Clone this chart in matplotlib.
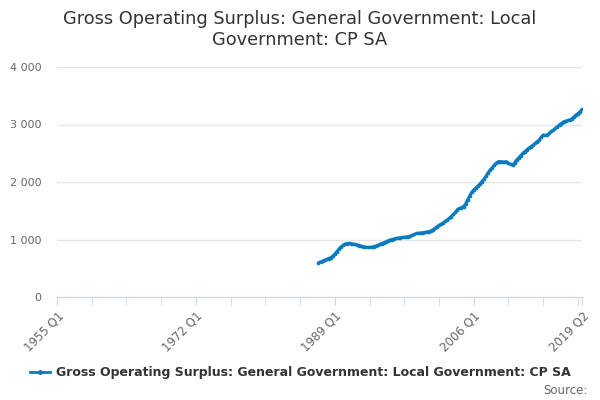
import numpy as np
import matplotlib.pyplot as plt
from matplotlib.lines import Line2D

title = "Gross Operating Surplus: General Government: Local\nGovernment: CP SA"
series_name = "Gross Operating Surplus: General Government: Local Government: CP SA"

# axis runs 1955 Q1 .. 2019 Q2, data from 1987 Q1
first_year, last_year, last_q = 1955, 2019, 2
data_start = (1987, 1)
tick_labels = ["1955 Q1", "1972 Q1", "1989 Q1", "2006 Q1", "2019 Q2"]
y_ticks = [0, 1000, 2000, 3000, 4000]

values = [
    597, 610, 625, 640, 655, 668, 685, 710, 745, 790,
    835, 870, 900, 920, 930, 933, 930, 922, 915, 905,
    895, 885, 875, 868, 864, 862, 866, 875, 887, 900,
    915, 930, 945, 960, 978, 991, 1000, 1010, 1020, 1025,
    1030, 1035, 1040, 1045, 1052, 1061, 1075, 1090, 1107, 1110,
    1112, 1118, 1125, 1130, 1136, 1150, 1170, 1195, 1223, 1245,
    1268, 1290, 1315, 1339, 1370, 1400, 1435, 1470, 1520, 1540,
    1555, 1571, 1620, 1687, 1760, 1820, 1861, 1895, 1930, 1965,
    2005, 2050, 2100, 2160, 2209, 2250, 2290, 2330, 2353, 2355,
    2350, 2348, 2353, 2330, 2305, 2296, 2330, 2383, 2420, 2460,
    2499, 2530, 2560, 2590, 2614, 2640, 2670, 2700, 2730, 2780,
    2817, 2810, 2817, 2850, 2880, 2904, 2935, 2965, 2995, 3020,
    3049, 3060, 3070, 3078, 3100, 3130, 3165, 3190, 3220, 3264,
]

def qindex(year, q):
    return (year - first_year) * 4 + (q - 1)

end_idx = qindex(last_year, last_q)
start_idx = qindex(*data_start)
x = np.arange(start_idx, start_idx + len(values))

blue = "#0a7bc1"
fig = plt.figure(figsize=(6, 4), dpi=100)
ax = fig.add_axes([0.095, 0.2575, 0.875, 0.575])

ax.plot(x, values, color=blue, lw=2.2, marker="o", ms=1.6, solid_capstyle="round")

ax.set_xlim(0, end_idx)
ax.set_ylim(0, 4000)
ax.set_yticks(y_ticks)
ax.set_yticklabels([f"{v:,}".replace(",", " ") for v in y_ticks])
ax.yaxis.grid(True, color="#e6e6e6", lw=1)
ax.set_axisbelow(True)

major = [qindex(1955, 1), qindex(1972, 1), qindex(1989, 1), qindex(2006, 1), end_idx]
ax.set_xticks(major)
ax.set_xticklabels(tick_labels, rotation=45, ha="right", rotation_mode="anchor")
minor = [i for i in range(0, end_idx, 17) if i not in major]
ax.set_xticks(minor, minor=True)

for s in ["top", "right", "left"]:
    ax.spines[s].set_visible(False)
ax.spines["bottom"].set_color("#ccd6eb")
ax.tick_params(axis="x", which="both", length=6, color="#ccd6eb", labelsize=8.5,
               labelcolor="#666666", pad=3)
ax.tick_params(axis="y", length=0, labelsize=8, labelcolor="#666666", pad=11)

fig.text(0.5, 0.975, title, ha="center", va="top", fontsize=12.8, color="#333333",
         linespacing=1.2)

handle = Line2D([], [], color=blue, lw=2, marker="o", ms=2.5)
fig.legend([handle], [series_name], loc="center", bbox_to_anchor=(0.5, 0.068),
           frameon=False, handlelength=1.6, handletextpad=0.5,
           prop={"weight": "bold", "size": 9}, labelcolor="#333333")

fig.text(0.98, 0.025, "Source:", ha="right", va="center", fontsize=8.5, color="#666666")

fig.savefig("out.png", dpi=100)
